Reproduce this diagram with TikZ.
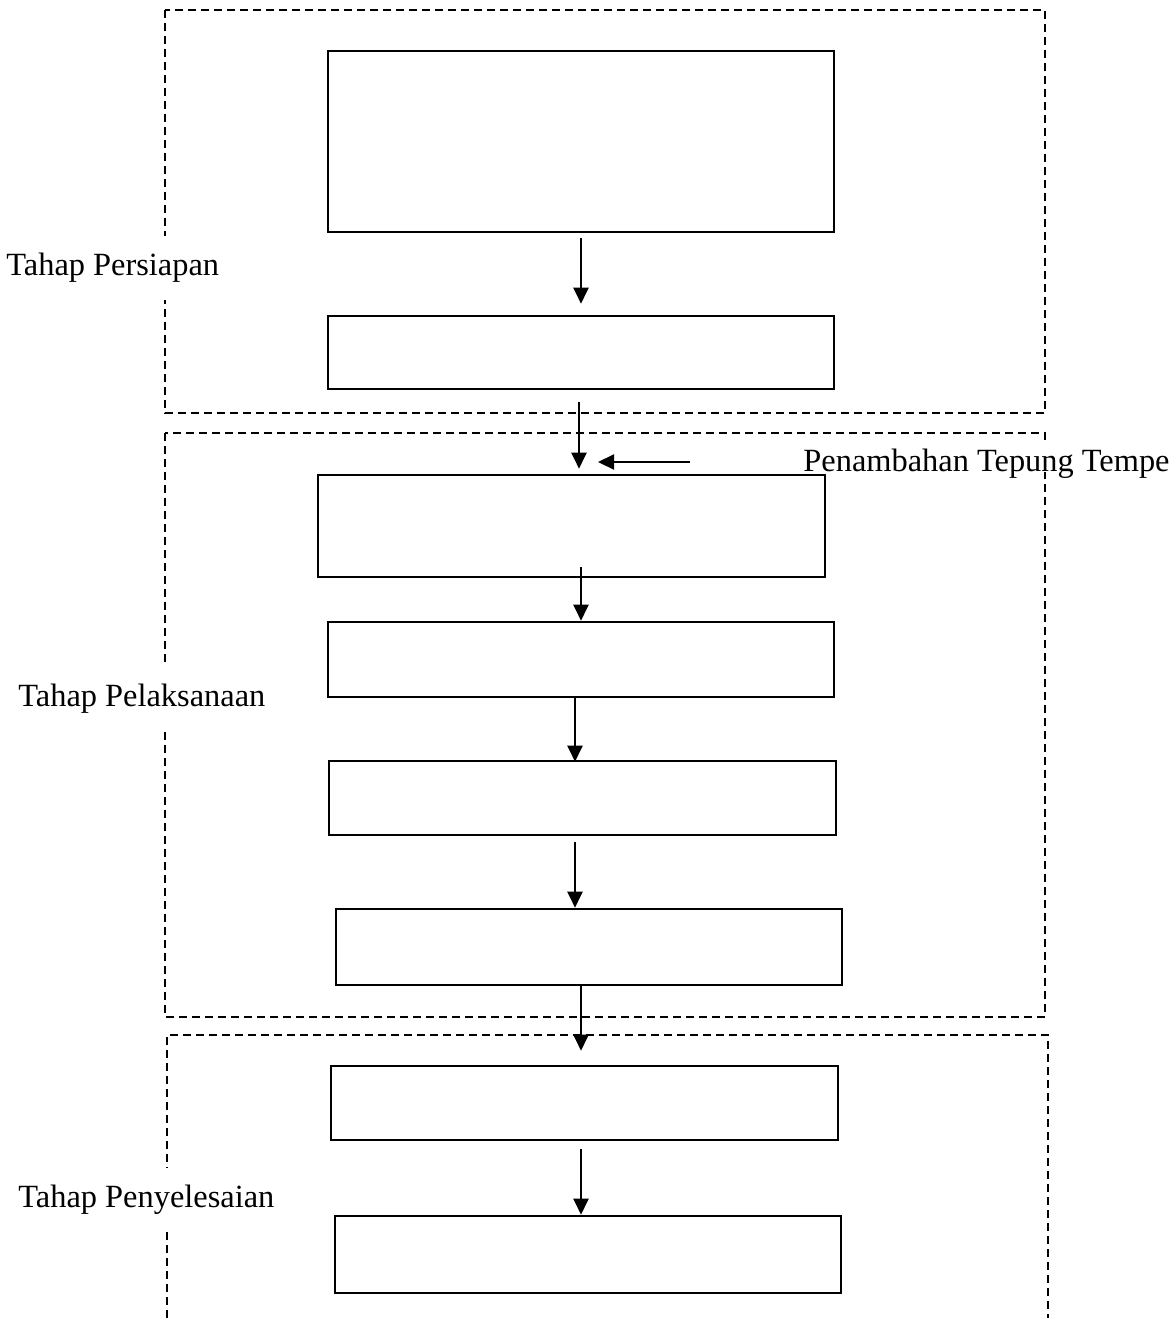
\documentclass[tikz,border=0pt]{standalone}
\usepackage{fontspec}
\setmainfont{Liberation Serif}
\usepackage{tikz}
\usetikzlibrary{arrows.meta, positioning, calc}

\begin{document}
\begin{tikzpicture}[
  x=0.5pt, y=-0.5pt,
  stepbox/.style={rectangle, draw, line width=1.3pt, minimum width=253pt, inner sep=0pt},
  frame/.style={line width=1pt, dash pattern=on 4pt off 2.5pt},
  stage/.style={fill=white, inner xsep=1pt, minimum height=32pt, anchor=west,
    font=\fontsize{16.2}{19}\selectfont},
  arr/.style={-{Triangle[length=8pt, width=7.5pt]}, line width=1.1pt},
]
  \useasboundingbox (0,0) rectangle (1175,1322);

  % dashed stage frames
  \draw[frame] (165,10) rectangle (1045,413);
  \draw[frame] (165,433) rectangle (1045,1017);
  \draw[frame] (167,1318) |- (1048,1035) -- (1048,1318);

  % process boxes
  \node[stepbox, minimum height=90.5pt] (b1) at (581,141.5) {};
  \node[stepbox, minimum height=36.5pt] (b2) at (581,352.5) {};
  \node[stepbox, minimum width=253.5pt, minimum height=51pt] (b3) at (571.5,526) {};
  \node[stepbox, minimum height=37.5pt] (b4) at (581,659.5) {};
  \node[stepbox, minimum width=253.5pt, minimum height=37pt] (b5) at (582.5,798) {};
  \node[stepbox, minimum height=38pt] (b6) at (589,947) {};
  \node[stepbox, minimum width=253.5pt, minimum height=37pt] (b7) at (584.5,1103) {};
  \node[stepbox, minimum height=38.5pt] (b8) at (588,1254.5) {};

  % stage labels
  \node[stage] (persiapan) at (4,268) {Tahap Persiapan};
  \node[stage] (pelaksanaan) at (16,699) {Tahap Pelaksanaan};
  \node[stage] (penyelesaian) at (16,1200) {Tahap Penyelesaian};
  \node[stage, minimum height=16pt, inner ysep=0pt, inner xsep=11.5pt,
    text height=15pt, text depth=0pt] (tempe) at (780,456) {Penambahan Tepung Tempe};

  % flow
  \draw[arr] ($(b1.south)+(0,5)$) -- ($(b2.north)+(0,-11)$);
  \draw[arr] ($(b2.south)+(-2,12)$) -- ($(b2.south |- b3.north)+(-2,-5)$);
  \draw[arr] ($(b4.north |- b3.south)+(0,-11)$) -- (b4.north);
  \draw[arr] ($(b4.south)+(-6,0)$) -- ($(b4.south |- b5.north)+(-6,2)$);
  \draw[arr] ($(b5.south)+(-7.5,6)$) -- ($(b5.south |- b6.north)+(-7.5,0)$);
  \draw[arr] ($(b6.south)+(-8,0)$) -- ($(b6.south |- b7.north)+(-8,-14)$);
  \draw[arr] ($(b7.south)+(-3.5,8)$) -- ($(b7.south |- b8.north)+(-3.5,0)$);

  \coordinate (addin) at (690,462);
  \coordinate (addtip) at (598,462);
  \draw[arr] (addin) -- (addtip);
\end{tikzpicture}
\end{document}
